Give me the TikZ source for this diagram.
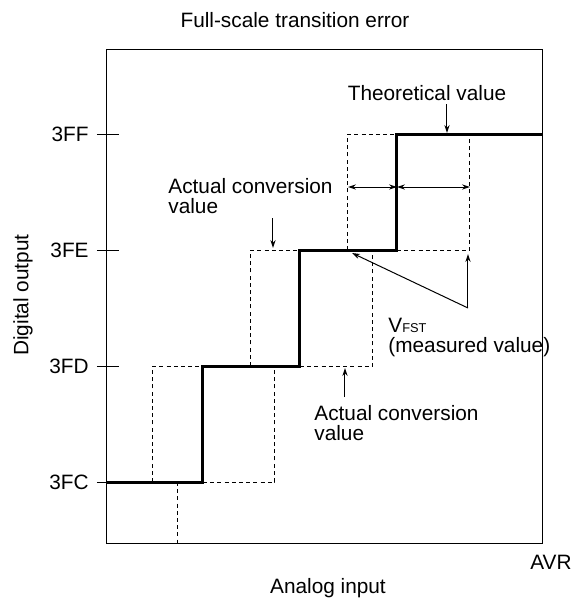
\documentclass[tikz,border=0pt]{standalone}
\usepackage{fontspec}
\setmainfont{Liberation Sans}
\usetikzlibrary{arrows.meta,positioning}

\begin{document}
\begin{tikzpicture}[x=0.5pt,y=-0.5pt,
  lbl/.style={font=\fontsize{10.4}{10}\selectfont,inner sep=0pt},
  stair/.style={line width=1.5pt,line join=miter},
  guide/.style={line width=0.5pt,dash pattern=on 2pt off 1.6pt},
  tip/.style={-{Stealth[length=4pt,width=2.6pt]},line width=0.5pt},
  dim/.style={{Stealth[length=4pt,width=2.6pt]}-{Stealth[length=4pt,width=2.6pt]},line width=0.5pt},
]
\useasboundingbox (0,0) rectangle (581,602);
\draw[line width=0.5pt] (107,49) rectangle (543,543);
\foreach \yy/\lab in {134/3FF,250/3FE,366/3FD,482/3FC}{
  \draw[line width=0.5pt] (97,\yy) -- (119,\yy);
  \node[lbl,anchor=east] (code-\lab) at (89,\yy) {\lab};
}
\draw[guide] (153,482) -- (153,366) -- (203,366);
\draw[guide] (203,482) -- (275,482) -- (275,366);
\draw[guide] (178,482) -- (178,543);
\draw[guide] (251,366) -- (251,250) -- (300,250);
\draw[guide] (300,366) -- (373,366) -- (373,250);
\draw[guide] (348,250) -- (348,134) -- (397,134);
\draw[guide] (397,250) -- (470,250) -- (470,134);
\draw[stair] (107,482) -- (203,482) -- (203,366) -- (300,366) -- (300,250)
  -- (397,250) -- (397,134) -- (543,134);

\coordinate (lo) at (348,187);
\coordinate (mid) at (397,187);
\coordinate (hi) at (470,187);
\draw[dim] (lo) -- (mid);
\draw[dim] (mid) -- (hi);

\node[lbl] (theo) at (427,93) {Theoretical value};
\coordinate (theo-s) at (447,104);
\coordinate (theo-e) at (447,133);
\draw[tip] (theo-s) -- (theo-e);

\node[lbl,align=left,anchor=west] (act1) at (168,196) {Actual conversion\\value};
\coordinate (act1-s) at (273,218);
\coordinate (act1-e) at (273,248);
\draw[tip] (act1-s) -- (act1-e);

\node[lbl,align=left,anchor=west] (vfst) at (388,337)
  {V{\fontsize{6.4}{6.4}\selectfont FST}\\(measured value)};
\coordinate (fork) at (468,308);
\coordinate (vfst-a) at (352,253);
\coordinate (vfst-b) at (468,254);
\draw[tip] (fork) -- (vfst-a);
\draw[tip] (fork) -- (vfst-b);

\node[lbl,align=left,anchor=west] (act2) at (314,423) {Actual conversion\\value};
\coordinate (act2-s) at (345,397);
\coordinate (act2-e) at (345,368);
\draw[tip] (act2-s) -- (act2-e);

\node[lbl] (title) at (295,20) {Full-scale transition error};
\node[lbl,rotate=90] (yaxis) at (23,295) {Digital output};
\node[lbl] (xaxis) at (328,588) {Analog input};
\node[lbl] (avr) at (551,562) {AVR};
\end{tikzpicture}
\end{document}
